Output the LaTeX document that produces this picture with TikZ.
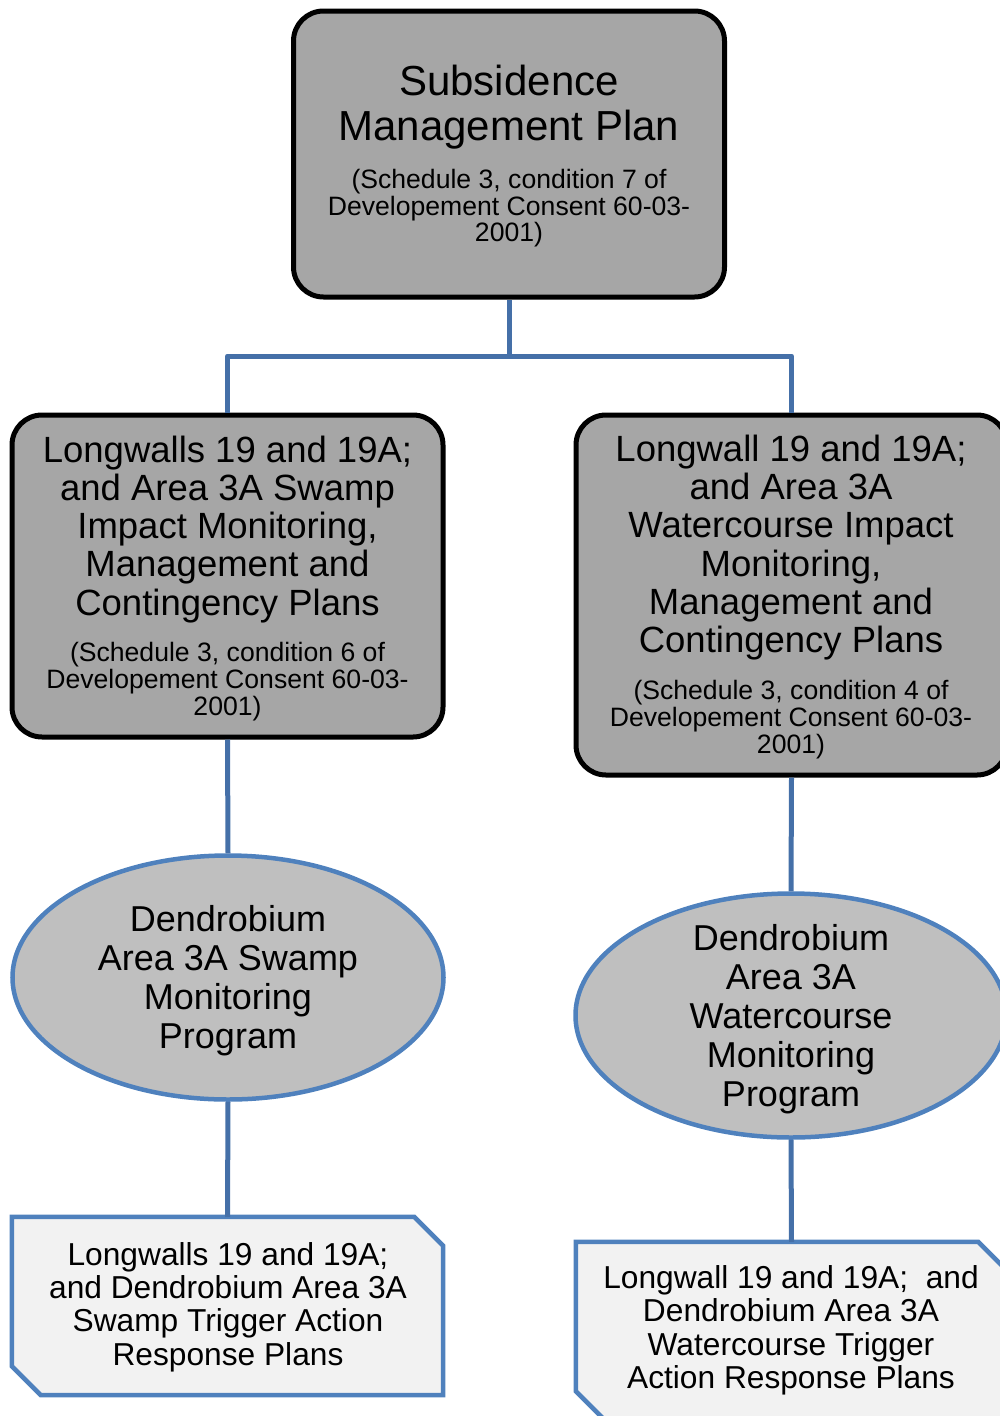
\documentclass[tikz,border=0pt]{standalone}
\usepackage{fontspec}
\setmainfont{Liberation Sans}
\usetikzlibrary{shapes.geometric,calc}
\definecolor{lineblue}{HTML}{4F81BD}
\definecolor{linkblue}{HTML}{4570A8}
\definecolor{boxgray}{HTML}{A6A6A6}
\definecolor{ovalgray}{HTML}{BFBFBF}
\definecolor{notefill}{HTML}{F2F2F2}
\tikzset{
  planbox/.style={rectangle, rounded corners=30pt, draw=black, line width=5pt, fill=boxgray, inner sep=0pt, minimum width=431pt},
  oval/.style={ellipse, draw=lineblue, line width=4.5pt, fill=ovalgray, inner sep=0pt, minimum width=431pt, minimum height=244pt},
  noteframe/.style={rectangle, inner sep=0pt, minimum width=431pt, minimum height=178pt},
  noteline/.style={draw=lineblue, line width=4.5pt, fill=notefill, line join=miter},
  link/.style={draw=linkblue, line width=5pt, line join=round},
  titletxt/.style={align=center, inner sep=0pt, font=\fontsize{42}{45}\selectfont},
  maintxt/.style={align=center, inner sep=0pt, font=\fontsize{36.5}{38.3}\selectfont},
  smalltxt/.style={align=center, inner sep=0pt, font=\fontsize{26.6}{26.8}\selectfont},
  ovaltxt/.style={align=center, inner sep=0pt, font=\fontsize{36}{38.9}\selectfont},
  notetxt/.style={align=center, inner sep=0pt, font=\fontsize{31.7}{33.3}\selectfont},
}
\begin{document}
\begin{tikzpicture}[x=1pt,y=-1pt]
\useasboundingbox (0,0) rectangle (1000,1416);
\clip (0,0) rectangle (1000,1416);

% shapes
\node[planbox, minimum height=286pt] (top) at (509,154) {};
\node[planbox, minimum height=322pt] (lmid) at (227.5,576) {};
\node[planbox, minimum height=360pt] (rmid) at (791.5,595) {};
\node[oval] (lov) at (228,977.5) {};
\node[oval] (rov) at (791,1015.5) {};
\node[noteframe] (lnote) at (227.5,1306) {};
\node[noteframe] (rnote) at (791.5,1331) {};

\path[noteline] (lnote.north west) -- ([xshift=-29pt]lnote.north east) -- ([yshift=-29pt]lnote.north east)
  -- (lnote.south east) -- ([xshift=29pt]lnote.south west) -- ([yshift=29pt]lnote.south west) -- cycle;
\path[noteline] (rnote.north west) -- ([xshift=-29pt]rnote.north east) -- ([yshift=-29pt]rnote.north east)
  -- (rnote.south east) -- ([xshift=29pt]rnote.south west) -- ([yshift=29pt]rnote.south west) -- cycle;

% connectors
\coordinate (j) at (509,356);
\draw[link] (top.south) -- (j);
\draw[link] (j) -| (lmid.north);
\draw[link] (j) -| (rmid.north);
\draw[link] (lmid.south) -- (lov.north);
\draw[link] (lov.south) -- (lnote.north);
\draw[link] (rmid.south) -- (rov.north);
\draw[link] (rov.south) -- (rnote.north);

% texts
\node[titletxt] (topt) at (509,106.8) {Subsidence\\Management Plan};
\node[smalltxt] (tops) at (509,208.2) {(Schedule 3, condition 7 of\\Developement Consent 60-03-\\2001)};

\node[maintxt] (lmidt) at (227.5,529.2) {Longwalls 19 and 19A;\\and Area 3A Swamp\\Impact Monitoring,\\Management and\\Contingency Plans};
\node[smalltxt] (lmids) at (227.5,681.5) {(Schedule 3, condition 6 of\\Developement Consent 60-03-\\2001)};

\node[maintxt] (rmidt) at (791,547.5) {Longwall 19 and 19A;\\and Area 3A\\Watercourse Impact\\Monitoring,\\Management and\\Contingency Plans};
\node[smalltxt] (rmids) at (791,719.9) {(Schedule 3, condition 4 of\\Developement Consent 60-03-\\2001)};

\node[ovaltxt] (lovt) at (228,980.6) {Dendrobium\\Area 3A Swamp\\Monitoring\\Program};
\node[ovaltxt] (rovt) at (791,1019) {Dendrobium\\Area 3A\\Watercourse\\Monitoring\\Program};

\node[notetxt] (lnotet) at (228,1307) {Longwalls 19 and 19A;\\and Dendrobium Area 3A\\Swamp Trigger Action\\Response Plans};
\node[notetxt] (rnotet) at (791,1330.3) {Longwall 19 and 19A;\ \ and\\Dendrobium Area 3A\\Watercourse Trigger\\Action Response Plans};
\end{tikzpicture}
\end{document}
